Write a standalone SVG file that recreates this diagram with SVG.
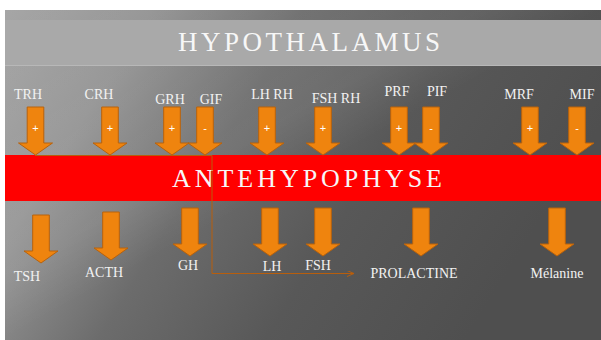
<svg xmlns="http://www.w3.org/2000/svg" width="601" height="340" viewBox="0 0 601 340">
<defs>
<linearGradient id="bg" x1="0" y1="0" x2="1" y2="0.35">
<stop offset="0" stop-color="#a6a6a6"/>
<stop offset="0.22" stop-color="#959595"/>
<stop offset="0.45" stop-color="#6c6c6c"/>
<stop offset="0.7" stop-color="#585858"/>
<stop offset="1" stop-color="#4f4f4f"/>
</linearGradient>
<linearGradient id="streak" x1="0" y1="0" x2="1" y2="1">
<stop offset="0" stop-color="#ffffff" stop-opacity="0"/>
<stop offset="0.4" stop-color="#ffffff" stop-opacity="0.07"/>
<stop offset="0.5" stop-color="#ffffff" stop-opacity="0"/>
<stop offset="1" stop-color="#ffffff" stop-opacity="0"/>
</linearGradient>
<path id="arr" d="M-8.3,0 H8.3 V36 H17 L0,48 L-17,36 H-8.3 Z"/>
<marker id="ah" markerWidth="8" markerHeight="6" refX="7" refY="3" orient="auto" markerUnits="userSpaceOnUse">
<path d="M0,0 L7,3 L0,6" fill="none" stroke="#b85e0c" stroke-width="1"/>
</marker>
<style>
.a{fill:#ef840e;stroke:#b8620c;stroke-width:1}
.l{font-family:"Liberation Serif","Times New Roman",serif;font-size:14px;fill:#f2f2f2;text-anchor:middle}
.s{font-family:"Liberation Sans",Arial,sans-serif;font-size:11px;fill:#ffffff;text-anchor:middle}
.t{font-family:"Liberation Serif","Times New Roman",serif;fill:#f7f7f7;text-anchor:middle}
</style>
</defs>
<rect x="0" y="0" width="601" height="340" fill="#ffffff"/>
<rect x="5" y="10" width="596" height="330" fill="url(#bg)"/>
<rect x="5" y="10" width="596" height="330" fill="url(#streak)"/>
<g id="hypothalamus">
<rect x="5" y="20" width="596" height="46" fill="#a9a9a9"/>
<line x1="5" y1="65.5" x2="601" y2="65.5" stroke="#b8b8b8" stroke-width="1"/>
<text class="t" x="309" y="51" font-size="27" textLength="262" lengthAdjust="spacing">HYPOTHALAMUS</text>
</g>
<g id="antehypophyse">
<rect x="5" y="155" width="596" height="46" fill="#ff0000"/>
<text class="t" x="307" y="187" font-size="26" textLength="270" lengthAdjust="spacing">ANTEHYPOPHYSE</text>
</g>
<g id="connectors">
<path d="M35,155.5 H212 V273.5 H354" fill="none" stroke="#b85e0c" stroke-width="1" marker-end="url(#ah)"/>
</g>
<g id="trh"><use href="#arr" class="a" x="35.5" y="107"/><text class="s" x="35.5" y="132">+</text><text class="l" x="28" y="99">TRH</text></g>
<g id="crh"><use href="#arr" class="a" x="110" y="107"/><text class="s" x="110" y="132">+</text><text class="l" x="99" y="99">CRH</text></g>
<g id="grh"><use href="#arr" class="a" x="172" y="107"/><text class="s" x="172" y="132">+</text><text class="l" x="170" y="104">GRH</text></g>
<g id="gif"><use href="#arr" class="a" x="205" y="107"/><text class="s" x="205" y="132">-</text><text class="l" x="211" y="104">GIF</text></g>
<g id="lhrh"><use href="#arr" class="a" x="267" y="107"/><text class="s" x="267" y="132">+</text><text class="l" x="272" y="99">LH RH</text></g>
<g id="fshrh"><use href="#arr" class="a" x="323" y="107"/><text class="s" x="323" y="132">+</text><text class="l" x="336" y="103">FSH RH</text></g>
<g id="prf"><use href="#arr" class="a" x="399" y="107"/><text class="s" x="399" y="132">+</text><text class="l" x="397" y="96">PRF</text></g>
<g id="pif"><use href="#arr" class="a" x="431" y="107"/><text class="s" x="431" y="132">-</text><text class="l" x="437" y="96">PIF</text></g>
<g id="mrf"><use href="#arr" class="a" x="530" y="107"/><text class="s" x="530" y="132">+</text><text class="l" x="519" y="99">MRF</text></g>
<g id="mif"><use href="#arr" class="a" x="577" y="107"/><text class="s" x="577" y="132">-</text><text class="l" x="582" y="99">MIF</text></g>
<g id="tsh"><use href="#arr" class="a" x="41" y="215"/><text class="l" x="27" y="281">TSH</text></g>
<g id="acth"><use href="#arr" class="a" x="111" y="212"/><text class="l" x="104" y="277">ACTH</text></g>
<g id="gh"><use href="#arr" class="a" x="190" y="208"/><text class="l" x="188" y="270">GH</text></g>
<g id="lh"><use href="#arr" class="a" x="270" y="208"/><text class="l" x="272" y="271">LH</text></g>
<g id="fsh"><use href="#arr" class="a" x="323" y="208"/><text class="l" x="318" y="270">FSH</text></g>
<g id="prolactine"><use href="#arr" class="a" x="421" y="208"/><text class="l" x="414" y="278">PROLACTINE</text></g>
<g id="melanine"><use href="#arr" class="a" x="557" y="208"/><text class="l" x="557" y="278">Mélanine</text></g>
</svg>
